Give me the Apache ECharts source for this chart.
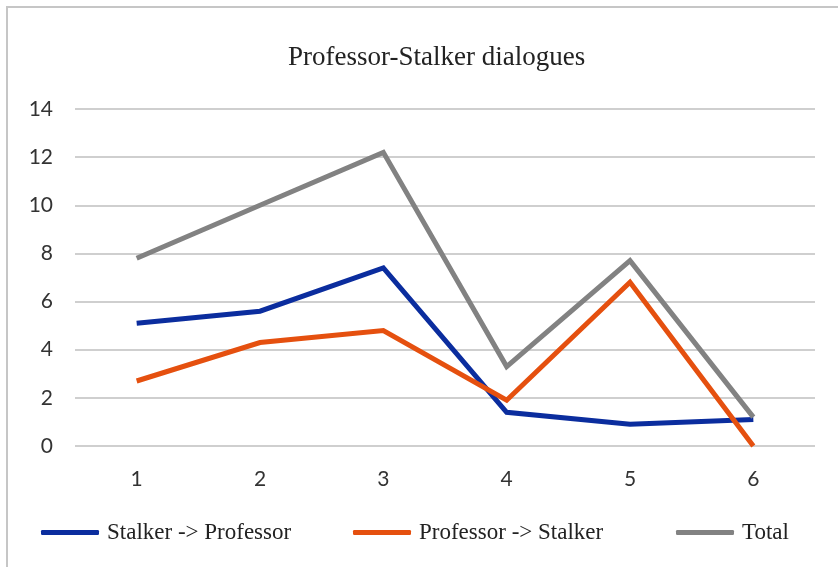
<!DOCTYPE html>
<html>
<head>
<meta charset="utf-8">
<script src="https://cdn.jsdelivr.net/npm/echarts@6/dist/echarts.min.js"></script>
<style>
  html, body { margin: 0; padding: 0; background: #fff; }
  #chart { width: 838px; height: 567px; }
</style>
</head>
<body>
<div id="chart"></div>
<script>
// 数据
const categories = ['1', '2', '3', '4', '5', '6']
const stalkerToProfessor = [5.1, 5.6, 7.4, 1.4, 0.9, 1.1]
const professorToStalker = [2.7, 4.3, 4.8, 1.9, 6.8, 0]
const total = [7.8, 10.0, 12.2, 3.3, 7.7, 1.2]
const seriesNames = ['Stalker -> Professor', 'Professor -> Stalker', 'Total']

const COLORS = ['#0b2d9e', '#e5500f', '#828282']
const LEGEND_LEFT = [36, 348, 671]

const chart = echarts.init(document.getElementById('chart'))

const lineSeries = (name, data, color) => ({
  name,
  type: 'line',
  data,
  symbol: 'none',
  smooth: false,
  lineStyle: { width: 5, color, join: 'miter' },
  itemStyle: { color }
})

// 每个图例单独定位
const legends = seriesNames.map((name, i) => ({
  left: LEGEND_LEFT[i],
  top: 516,
  itemWidth: 58,
  itemHeight: 5,
  icon: 'roundRect',
  textStyle: {
    fontFamily: 'Liberation Serif',
    fontSize: 23,
    color: '#222',
    padding: [0, 0, 0, 3]
  },
  data: [name]
}))

const option = {
  animation: false,
  // 外框（只显示左、上边）
  graphic: [{
    type: 'rect',
    silent: true,
    shape: { x: 7, y: 7, width: 1000, height: 1000 },
    style: { fill: null, stroke: '#c6c6c6', lineWidth: 2 }
  }],
  title: {
    text: 'Professor-Stalker dialogues',
    left: 283,
    top: 39,
    textStyle: {
      fontFamily: 'Liberation Serif',
      fontSize: 27,
      fontWeight: 'normal',
      color: '#222'
    }
  },
  legend: legends,
  grid: {
    left: 75,
    right: 23,
    top: 109,
    bottom: 121,
    containLabel: false
  },
  xAxis: {
    type: 'category',
    data: categories,
    boundaryGap: true,
    axisLine: { show: false },
    axisTick: { show: false },
    axisLabel: {
      margin: 23,
      fontFamily: 'Lato',
      fontSize: 21,
      color: '#333'
    }
  },
  yAxis: {
    type: 'value',
    min: 0,
    max: 14,
    interval: 2,
    axisLine: { show: false },
    axisTick: { show: false },
    axisLabel: {
      margin: 22,
      fontFamily: 'Lato',
      fontSize: 21,
      color: '#333'
    },
    splitLine: { lineStyle: { color: '#cfcfcf', width: 2 } }
  },
  series: [
    lineSeries(seriesNames[0], stalkerToProfessor, COLORS[0]),
    lineSeries(seriesNames[1], professorToStalker, COLORS[1]),
    lineSeries(seriesNames[2], total, COLORS[2])
  ]
}

chart.setOption(option)
</script>
</body>
</html>
